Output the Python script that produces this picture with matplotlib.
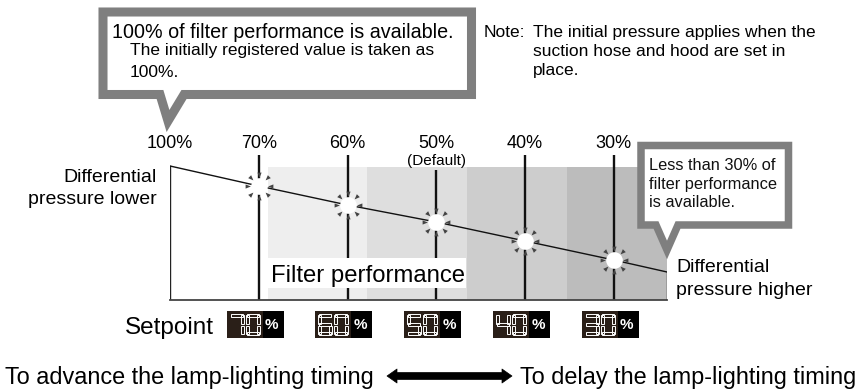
import matplotlib
matplotlib.use("Agg")
import matplotlib.pyplot as plt
from matplotlib.path import Path
from matplotlib.patches import Polygon, Rectangle
from matplotlib import font_manager
import numpy as np

# ---------------- data ----------------
perf_labels = ["100%", "70%", "60%", "50%", "40%", "30%"]
pressure = [134, 114, 95, 78, 59, 40]      # differential pressure at each label (arbitrary units)
pressure_end = 28                         # value at right edge of the diagram
setpoints = [70, 60, 50, 40, 30]
default_setpoint = 50
band_colors = ["#eeeeee", "#dedede", "#cdcdcd", "#bcbcbc"]

plt.rcParams['font.family'] = ['Liberation Sans', 'DejaVu Sans']
try:
    font_manager.findfont(font_manager.FontProperties(family='Liberation Sans Narrow'),
                          fallback_to_default=False)
    NARROW = ['Liberation Sans Narrow', 'Liberation Sans']
    NARROW_SIZE = 19.5
except Exception:
    NARROW = ['Liberation Sans']
    NARROW_SIZE = 16.9

W, H = 857, 390
fig = plt.figure(figsize=(W / 100, H / 100), dpi=100)

# chart axes: x = category index, y = pressure units (1 unit = 1 px)
cx = fig.add_axes([170 / W, 90 / H, 497 / W, 145 / H])
XMAX = 5.6
cx.set_xlim(0, XMAX)
cx.set_ylim(0, 145)
cx.axis('off')

# deco axes in pixel coordinates on top
ax = fig.add_axes([0, 0, 1, 1], zorder=5)
ax.set_xlim(0, W)
ax.set_ylim(H, 0)
ax.axis('off')
ax.patch.set_alpha(0)

idx = np.arange(len(perf_labels))

# bands
edges = np.linspace(1.10, XMAX, len(band_colors) + 1)
for i, c in enumerate(band_colors):
    cx.bar(edges[i], 133, width=edges[i + 1] - edges[i], align='edge', color=c,
           linewidth=0, zorder=1)

# vertical setpoint lines (the default one starts below its "(Default)" note)
tops = [130 if sp == default_setpoint else 145 for sp in setpoints]
cx.vlines(idx[1:], 0, tops, color='#111111', linewidth=1.7, zorder=2)
# outline
cx.plot([0, 0], [0, pressure[0]], color='#222222', linewidth=1.0, zorder=2)
cx.plot([0, XMAX], [0, 0], color='#444444', linewidth=1.3, zorder=2, clip_on=False)
cx.plot([XMAX, XMAX], [0, pressure_end], color='#222222', linewidth=1.0, zorder=2)
# pressure line
cx.plot(list(idx) + [XMAX], pressure + [pressure_end], color='#111111', linewidth=1.0, zorder=3)

# starburst markers
verts, codes = [], []
for k in range(8):
    th = np.deg2rad(k * 45)
    d = np.array([np.cos(th), np.sin(th)])
    p = np.array([-np.sin(th), np.cos(th)])
    tip = 0.62 * d
    b1 = 1.0 * d + 0.15 * p
    b2 = 1.0 * d - 0.15 * p
    verts += [tip, b1, b2, tip]
    codes += [Path.MOVETO, Path.LINETO, Path.LINETO, Path.CLOSEPOLY]
spike = Path(verts, codes)
cx.plot(idx[1:], pressure[1:], linestyle='none', marker=spike, markersize=20,
        markerfacecolor='#444444', markeredgewidth=0, zorder=4)
cx.plot(idx[1:], pressure[1:], linestyle='none', marker='o', markersize=12,
        markerfacecolor='white', markeredgewidth=0, zorder=5)

# tick labels
for i, lab in zip(idx, perf_labels):
    cx.text(i, 152, lab, ha='center', va='baseline', fontsize=13, clip_on=False)
cx.text(setpoints.index(default_setpoint) + 1, 135, "(Default)", ha='center',
        va='baseline', fontsize=11, clip_on=False)

fig.canvas.draw()
def px(i):
    return cx.transData.transform((i, 0))[0]

# Filter performance label
ax.add_patch(Rectangle((268, 258), 198, 30, facecolor='white', edgecolor='none', zorder=1))
ax.text(271, 282, "Filter performance", fontsize=17.2, va='baseline', ha='left', zorder=2)

# side labels
ax.text(157, 182, "Differential", ha='right', va='baseline', fontsize=14)
ax.text(157, 204, "pressure lower", ha='right', va='baseline', fontsize=14)
ax.text(676, 272, "Differential", ha='left', va='baseline', fontsize=14)
ax.text(676, 295, "pressure higher", ha='left', va='baseline', fontsize=14)

GRAY = '#7f7f7f'
# top-left callout
ax.add_patch(Polygon([(103, 12), (471.5, 12), (471.5, 94.5), (184, 94.5), (168, 121),
                      (160, 94.5), (103, 94.5)], closed=True, facecolor='white',
                     edgecolor=GRAY, linewidth=6.5, joinstyle='miter', zorder=3))
ax.text(112, 38, "100% of filter performance is available.", fontsize=14.2,
        va='baseline', zorder=4)
ax.text(130, 55, "The initially registered value is taken as", fontsize=12.5,
        va='baseline', zorder=4)
ax.text(130, 77, "100%.", fontsize=12.5, va='baseline', zorder=4)

# note
ax.text(484, 37, "Note:", fontsize=12.5, va='baseline')
ax.text(533, 37, "The initial pressure applies when the", fontsize=12.5, va='baseline')
ax.text(533, 56, "suction hose and hood are set in", fontsize=12.5, va='baseline')
ax.text(533, 75, "place.", fontsize=12.5, va='baseline')

# right callout
ax.add_patch(Polygon([(641, 145.5), (788.5, 145.5), (788.5, 225), (678, 225), (667, 250),
                      (656, 225), (641, 225)], closed=True, facecolor='white',
                     edgecolor=GRAY, linewidth=5.4, joinstyle='miter', zorder=3))
for t, y in zip(["Less than 30% of", "filter performance", "is available."], [170, 189, 207]):
    ax.text(649, y, t, fontsize=11.8, va='baseline', zorder=4, color='#111111')

# setpoint row
ax.text(125, 334, "Setpoint", fontsize=17.5, va='baseline')

SEGS = {'0': 'abcdef', '1': 'bc', '2': 'abdeg', '3': 'abcdg', '4': 'bcfg',
        '5': 'acdfg', '6': 'acdefg', '7': 'abc', '8': 'abcdefg', '9': 'abcdfg'}

def seg_rects(x0, y0, w, h, t):
    hm = h / 2
    return {
        'a': (x0 + 1, y0, w - 2, t),
        'g': (x0 + 1, y0 + hm - t / 2, w - 2, t),
        'd': (x0 + 1, y0 + h - t, w - 2, t),
        'f': (x0, y0 + 1, t, hm - 2),
        'b': (x0 + w - t, y0 + 1, t, hm - 2),
        'e': (x0, y0 + hm + 1, t, hm - 2),
        'c': (x0 + w - t, y0 + hm + 1, t, hm - 2),
    }

for i, sp in zip(idx[1:], setpoints):
    bx = px(i) - 32
    by = 311
    ax.add_patch(Rectangle((bx, by), 36, 27, facecolor='#2a1f18', edgecolor='none'))
    ax.add_patch(Rectangle((bx + 36, by), 21, 27, facecolor='black', edgecolor='none'))
    for j, ch in enumerate(str(sp)):
        rects = seg_rects(bx + 3 + j * 16, by + 3, 14, 21, 3)
        for s in SEGS[ch]:
            x, y, w, h = rects[s]
            ax.add_patch(Rectangle((x, y), w, h, facecolor='none', edgecolor='white',
                                   linewidth=0.7))
    ax.text(bx + 45, by + 14, "%", color='white', fontsize=11, fontweight='bold',
            ha='center', va='center')

# bottom
ax.text(5, 384, "To advance the lamp-lighting timing", fontsize=NARROW_SIZE,
        family=NARROW, va='baseline')
ax.text(520, 384, "To delay the lamp-lighting timing", fontsize=NARROW_SIZE,
        family=NARROW, va='baseline')
ax.add_patch(Polygon([(387, 376), (397, 369), (397, 372.5), (502, 372.5), (502, 369),
                      (512, 376), (502, 383), (502, 379.5), (397, 379.5), (397, 383)],
                     closed=True, facecolor='black', edgecolor='black', linewidth=0.5,
                     joinstyle='round'))

fig.savefig("out.png", dpi=100)
